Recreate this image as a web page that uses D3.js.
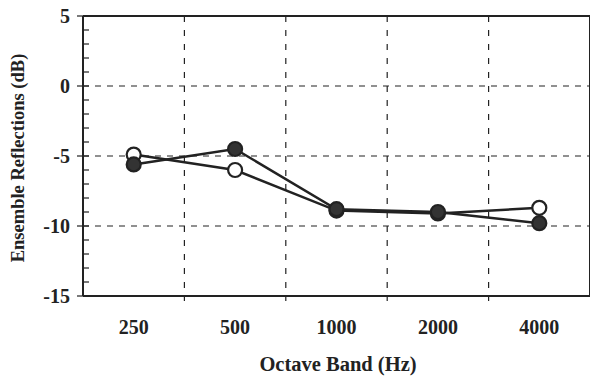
<!DOCTYPE html>
<html><head><meta charset="utf-8">
<script src="https://cdn.jsdelivr.net/npm/d3@7"></script>
<style>body{margin:0;background:#fff}</style>
</head><body>
<svg id="c" width="591" height="376"></svg>
<script>
const categories = ["250", "500", "1000", "2000", "4000"];
const openSeries = [-4.9, -6.0, -8.9, -9.1, -8.7];
const filledSeries = [-5.6, -4.5, -8.8, -9.0, -9.8];
const yTicks = [-15, -10, -5, 0, 5];
const yMinor = d3.range(-15, 5.01, 1);

const svg = d3.select("#c");
const m = {l: 83, r: 590, t: 16, b: 296};
const x = d3.scaleBand().domain(categories).range([m.l, m.r]);
const y = d3.scaleLinear().domain([-15, 5]).range([m.b, m.t]);
const ink = "#222";
const font = "'Liberation Serif', 'Times New Roman', serif";

// grid horizontal
svg.append("g").selectAll("line").data(yTicks.filter(d => d > -15 && d < 5)).join("line")
  .attr("x1", m.l).attr("x2", m.r).attr("y1", d => y(d)).attr("y2", d => y(d))
  .attr("stroke", ink).attr("stroke-width", 1.2).attr("stroke-dasharray", "6,6");
// grid vertical (category boundaries)
svg.append("g").selectAll("line").data(categories.slice(1)).join("line")
  .attr("x1", d => x(d)).attr("x2", d => x(d)).attr("y1", m.t).attr("y2", m.b + 5)
  .attr("stroke", ink).attr("stroke-width", 1.2).attr("stroke-dasharray", "6,8");

// frame
svg.append("line").attr("x1", m.l).attr("x2", m.r).attr("y1", m.t).attr("y2", m.t).attr("stroke", ink).attr("stroke-width", 2);
svg.append("line").attr("x1", m.l).attr("x2", m.r).attr("y1", m.b).attr("y2", m.b).attr("stroke", ink).attr("stroke-width", 2);
svg.append("line").attr("x1", m.l).attr("x2", m.l).attr("y1", m.t).attr("y2", m.b).attr("stroke", ink).attr("stroke-width", 2);
svg.append("line").attr("x1", m.r - 0.5).attr("x2", m.r - 0.5).attr("y1", m.t).attr("y2", m.b).attr("stroke", ink).attr("stroke-width", 1);

// y minor ticks (inside)
svg.append("g").selectAll("line").data(yMinor).join("line")
  .attr("x1", m.l).attr("x2", m.l + 6).attr("y1", d => y(d)).attr("y2", d => y(d))
  .attr("stroke", ink).attr("stroke-width", 1.2);
// y major ticks (outside)
svg.append("g").selectAll("line").data(yTicks).join("line")
  .attr("x1", m.l - 6).attr("x2", m.l).attr("y1", d => y(d)).attr("y2", d => y(d))
  .attr("stroke", ink).attr("stroke-width", 1.2);
// y labels
svg.append("g").selectAll("text").data(yTicks).join("text")
  .attr("x", 70).attr("y", d => y(d)).attr("dy", "0.35em").attr("text-anchor", "end")
  .attr("font-family", font).attr("font-weight", "bold").attr("font-size", 20).attr("fill", ink)
  .text(d => d);

// x labels
svg.append("g").selectAll("text").data(categories).join("text")
  .attr("x", d => x(d) + x.bandwidth() / 2).attr("y", 334).attr("text-anchor", "middle")
  .attr("font-family", font).attr("font-weight", "bold").attr("font-size", 20).attr("fill", ink)
  .text(d => d);

// axis titles
svg.append("text").attr("x", 338).attr("y", 371).attr("text-anchor", "middle")
  .attr("font-family", font).attr("font-weight", "bold").attr("font-size", 20.5).attr("fill", ink)
  .text("Octave Band (Hz)");
svg.append("text").attr("transform", "translate(24,158) rotate(-90)").attr("text-anchor", "middle")
  .attr("font-family", font).attr("font-weight", "bold").attr("font-size", 18.5).attr("fill", ink)
  .text("Ensemble Reflections (dB)");

const cx = (d, i) => x(categories[i]) + x.bandwidth() / 2;
const line = d3.line().x(cx).y(d => y(d));

function drawSeries(vals) {
  svg.append("path").datum(vals).attr("d", line).attr("fill", "none")
    .attr("stroke", ink).attr("stroke-width", 2.5);
}
function drawPoints(vals, filled) {
  svg.append("g").selectAll("circle").data(vals).join("circle")
    .attr("cx", cx).attr("cy", d => y(d)).attr("r", 7)
    .attr("fill", filled ? "#333" : "#fff").attr("stroke", ink).attr("stroke-width", 2.2);
}
drawSeries(openSeries);
drawSeries(filledSeries);
drawPoints(openSeries, false);
drawPoints(filledSeries, true);
</script>
</body></html>
